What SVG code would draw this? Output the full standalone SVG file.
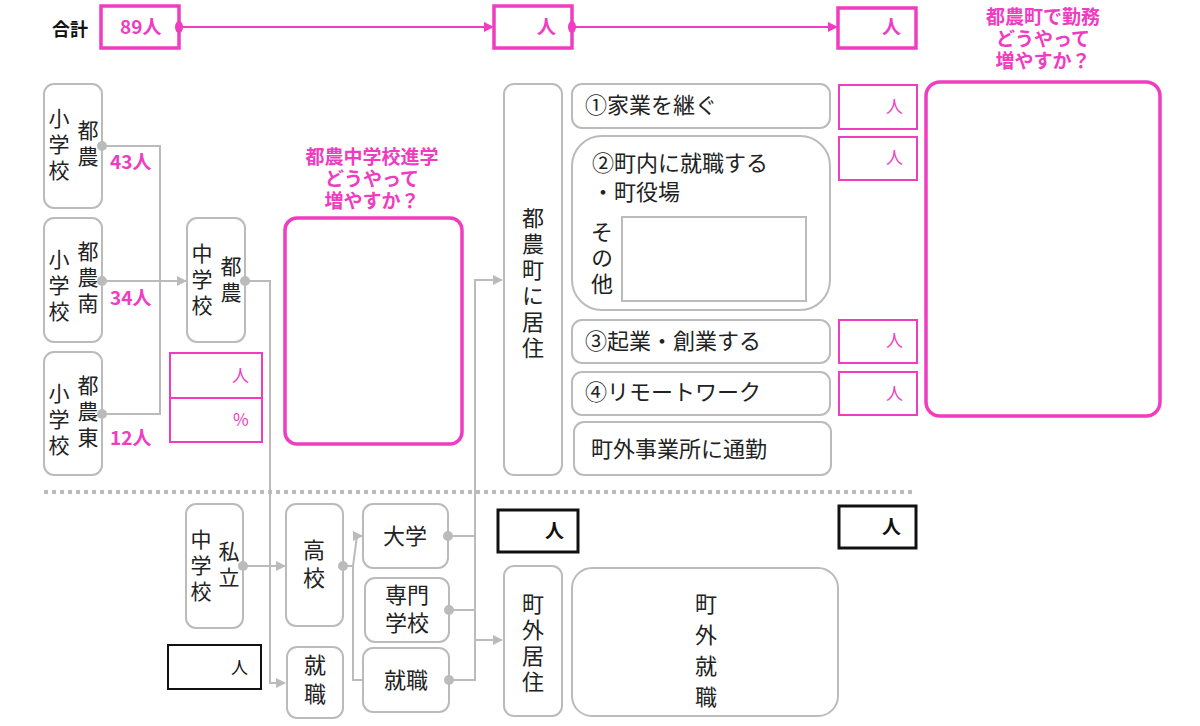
<svg xmlns="http://www.w3.org/2000/svg" width="1200" height="726" viewBox="0 0 1200 726">
<style>
text{font-family:"Noto Sans CJK JP","Noto Sans",sans-serif;font-size:22px;fill:#222}
.t{writing-mode:vertical-rl;letter-spacing:4px}
.v{font-size:21px;letter-spacing:5px}
.n{fill:#fff;stroke:#bbb;stroke-width:2}
.p{fill:#fff;stroke:#f03cc0;stroke-width:2}
.pb{fill:#fff;stroke:#f03cc0;stroke-width:3.5}
.k{fill:#fff;stroke:#111}
.pt{fill:#f03cc0;font-weight:bold;font-size:19px}
.ps{fill:#f03cc0;font-size:17px}
.c{fill:none;stroke:#bbb;stroke-width:2}
.cp{fill:none;stroke:#f03cc0;stroke-width:2}
.m{text-anchor:middle}
</style>
<defs>
<marker id="a" markerWidth="10" markerHeight="10" refX="9" refY="5" orient="auto" markerUnits="userSpaceOnUse"><path d="M0,0 L10,5 L0,10z" fill="#bbb"/></marker>
<marker id="ap" markerWidth="10" markerHeight="10" refX="9" refY="5" orient="auto" markerUnits="userSpaceOnUse"><path d="M0,0 L10,5 L0,10z" fill="#f03cc0"/></marker>
</defs>
<g id="connectors">
<line class="cp" x1="179" y1="27" x2="493" y2="27" marker-end="url(#ap)"/>
<line class="cp" x1="572" y1="27" x2="837" y2="27" marker-end="url(#ap)"/>
<polyline class="c" points="102,146 160,146 160,414 102,414"/>
<line class="c" x1="102" y1="281" x2="186" y2="281" marker-end="url(#a)"/>
<polyline class="c" points="245,281 270,281 270,683 285,683" marker-end="url(#a)"/>
<line class="c" x1="243" y1="566" x2="285" y2="566" marker-end="url(#a)"/>
<polyline class="c" points="343,566 353,566 357,536 362,536" marker-end="url(#a)"/>
<polyline class="c" points="353,566 353,680 371,680" marker-end="url(#a)"/>
<polyline class="c" points="448,536 475,536"/>
<polyline class="c" points="449,610 475,610"/>
<polyline class="c" points="449,680 475,680 475,280 502,280" marker-end="url(#a)"/>
<line class="c" x1="475" y1="640" x2="502" y2="640" marker-end="url(#a)"/>
<line x1="44" y1="492" x2="916" y2="492" stroke="#bbb" stroke-width="4" stroke-dasharray="4 4"/>
</g>
<g id="total">
<text x="52" y="36" style="font-weight:bold;font-size:18px;fill:#111">合計</text>
<rect class="pb" x="101" y="6" width="78" height="42"/>
<text class="pt" x="120" y="34">89人</text>
<rect class="pb" x="494" y="6" width="78" height="42"/>
<text class="pt" x="537" y="34">人</text>
<rect class="pb" x="838" y="8" width="78" height="40"/>
<text class="pt" x="882" y="34">人</text>
<text class="pt m" x="1043" y="24">都農町で勤務</text>
<text class="pt m" x="1043" y="46">どうやって</text>
<text class="pt m" x="1043" y="68">増やすか？</text>
</g>
<g id="s1"><rect class="n" x="44" y="84" width="58" height="124" rx="10"/>
<text class="t v" x="59" y="108">小学校</text><text class="t v" x="88" y="120">都農</text>
<text class="pt" x="110" y="169">43人</text></g>
<g id="s2"><rect class="n" x="44" y="218" width="58" height="124" rx="10"/>
<text class="t v" x="59" y="249">小学校</text><text class="t v" x="88" y="241">都農南</text>
<text class="pt" x="110" y="305">34人</text></g>
<g id="s3"><rect class="n" x="44" y="352" width="58" height="123" rx="10"/>
<text class="t v" x="59" y="383">小学校</text><text class="t v" x="88" y="375">都農東</text>
<text class="pt" x="110" y="445">12人</text></g>
<g id="j1"><rect class="n" x="187" y="218" width="58" height="124" rx="10"/>
<text class="t v" x="202" y="243">中学校</text><text class="t v" x="231" y="256">都農</text></g>
<g id="jbox"><rect class="p" x="170" y="353" width="92" height="45"/><rect class="p" x="170" y="398" width="92" height="44"/>
<text class="ps" x="232" y="382">人</text><text class="ps" x="233" y="426">%</text></g>
<g id="midq"><rect class="pb" x="285" y="218" width="177" height="226" rx="12"/>
<text class="pt m" x="372" y="164">都農中学校進学</text><text class="pt m" x="372" y="186">どうやって</text><text class="pt m" x="372" y="208">増やすか？</text></g>
<g id="j2"><rect class="n" x="186" y="504" width="57" height="124" rx="10"/>
<text class="t v" x="201" y="529">中学校</text><text class="t v" x="229" y="541">私立</text></g>
<g id="kbox1"><rect class="k" stroke-width="2" x="168" y="645" width="93" height="44"/><text class="ps" x="231" y="674" style="fill:#111">人</text></g>
<g id="hs"><rect class="n" x="286" y="504" width="57" height="122" rx="10"/>
<text class="t" x="314" y="539" style="letter-spacing:6px">高校</text></g>
<g id="job1"><rect class="n" x="287" y="647" width="56" height="71" rx="10"/>
<text class="t" x="315" y="654" style="letter-spacing:7px">就職</text></g>
<g id="univ"><rect class="n" x="363" y="504" width="85" height="64" rx="10"/><text class="m" x="405" y="544">大学</text></g>
<g id="senmon"><rect class="n" x="365" y="578" width="84" height="64" rx="10"/>
<text class="m" x="407" y="603">専門</text><text class="m" x="407" y="631">学校</text></g>
<g id="job2"><rect class="n" x="363" y="648" width="86" height="64" rx="10"/><text class="m" x="406" y="688">就職</text></g>
<g id="live"><rect class="n" x="504" y="84" width="58" height="391" rx="10"/>
<text class="t" x="533" y="207">都農町に居住</text></g>
<g id="o1"><rect class="n" x="572" y="84" width="258" height="44" rx="10"/><text x="585" y="113">①家業を継ぐ</text></g>
<g id="o2"><rect class="n" x="572" y="136" width="258" height="174" rx="30"/>
<text x="592" y="171">②町内に就職する</text><text x="592" y="200">・町役場</text>
<text class="t" x="602" y="221">その他</text>
<rect x="622" y="217" width="184" height="84" fill="#fff" stroke="#bbb" stroke-width="2"/></g>
<g id="o3"><rect class="n" x="572" y="320" width="258" height="43" rx="10"/><text x="585" y="349">③起業・創業する</text></g>
<g id="o4"><rect class="n" x="572" y="372" width="258" height="43" rx="10"/><text x="585" y="400">④リモートワーク</text></g>
<g id="o5"><rect class="n" x="574" y="422" width="257" height="53" rx="10"/><text x="591" y="457">町外事業所に通勤</text></g>
<g id="pboxes">
<rect class="p" x="839" y="85" width="78" height="44"/><text class="ps" x="886" y="113">人</text>
<rect class="p" x="839" y="137" width="78" height="43"/><text class="ps" x="886" y="164">人</text>
<rect class="p" x="839" y="320" width="78" height="43"/><text class="ps" x="886" y="347">人</text>
<rect class="p" x="839" y="372" width="78" height="43"/><text class="ps" x="886" y="400">人</text>
</g>
<g id="rightq"><rect class="pb" x="926" y="82" width="234" height="334" rx="14"/></g>
<g id="kbox2"><rect class="k" stroke-width="3" x="498" y="510" width="80" height="42"/><text x="545" y="538" style="font-weight:bold;font-size:19px;fill:#111">人</text></g>
<g id="kbox3"><rect class="k" stroke-width="3" x="839" y="506" width="77" height="42"/><text x="882" y="534" style="font-weight:bold;font-size:19px;fill:#111">人</text></g>
<g id="outlive"><rect class="n" x="504" y="566" width="58" height="150" rx="10"/>
<text class="t" x="533" y="593">町外居住</text></g>
<g id="outjob"><rect class="n" x="572" y="568" width="266" height="148" rx="20"/>
<text class="t" x="706" y="593" style="letter-spacing:9px">町外就職</text></g>
<g id="dots" fill="#bbb">
<ellipse cx="179" cy="27" rx="4" ry="6" fill="#f03cc0"/>
<ellipse cx="572" cy="27" rx="4" ry="6" fill="#f03cc0"/>
<circle cx="102" cy="146" r="5"/><circle cx="102" cy="281" r="5"/><circle cx="102" cy="414" r="5"/>
<circle cx="245" cy="281" r="5"/><circle cx="243" cy="566" r="5"/><circle cx="343" cy="566" r="5"/>
<circle cx="448" cy="536" r="5"/><circle cx="449" cy="610" r="5"/><circle cx="449" cy="680" r="5"/>
</g>
</svg>
